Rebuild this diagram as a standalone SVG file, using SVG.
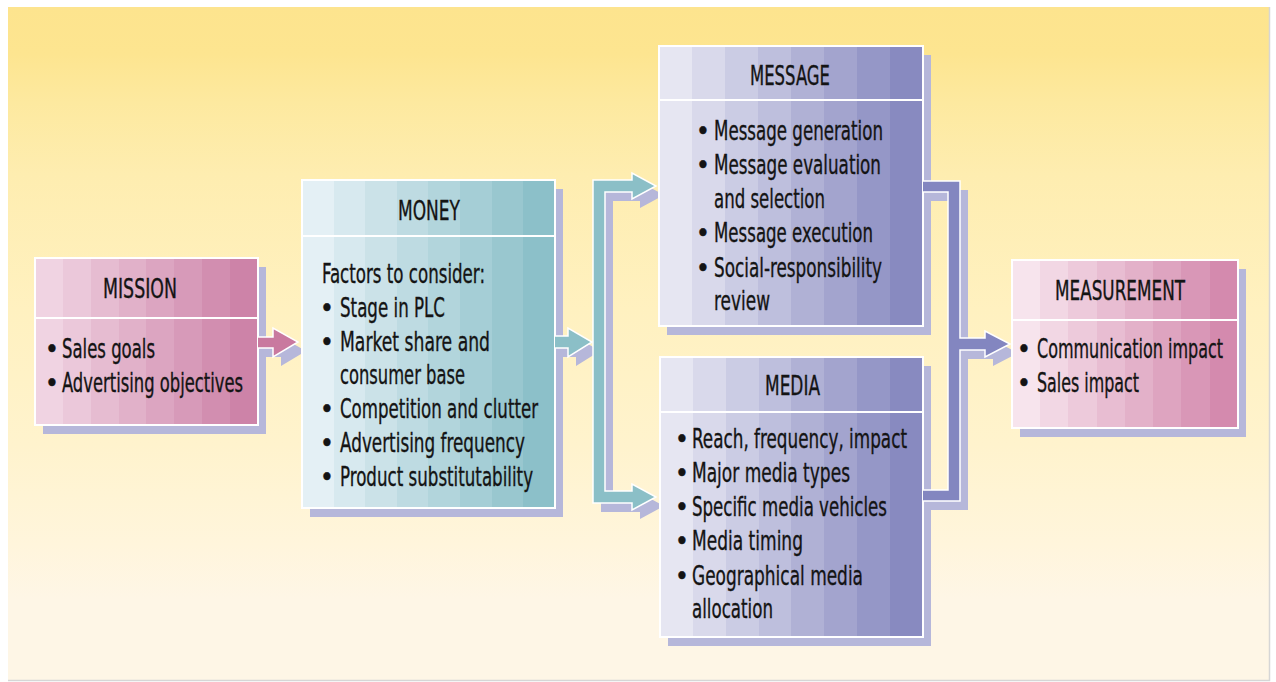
<svg xmlns="http://www.w3.org/2000/svg" width="1276" height="682" viewBox="0 0 1276 682">
<defs>
<linearGradient id="bg" x1="0" y1="0" x2="0" y2="1">
<stop offset="0" stop-color="#fde48e"/><stop offset="0.07" stop-color="#fde590"/><stop offset="0.14" stop-color="#fde99f"/><stop offset="0.25" stop-color="#feedb0"/><stop offset="0.45" stop-color="#fff1c0"/><stop offset="0.65" stop-color="#fff3cd"/><stop offset="0.8" stop-color="#fff5dc"/><stop offset="0.88" stop-color="#fef6e6"/><stop offset="1" stop-color="#fef6e6"/>
</linearGradient>
<linearGradient id="gPink" x1="0" y1="0" x2="1" y2="0">
<stop offset="0" stop-color="#f0d3e2"/><stop offset="0.125" stop-color="#f0d3e2"/><stop offset="0.125" stop-color="#ebc8da"/><stop offset="0.25" stop-color="#ebc8da"/><stop offset="0.25" stop-color="#e6bcd1"/><stop offset="0.375" stop-color="#e6bcd1"/><stop offset="0.375" stop-color="#e1b1c9"/><stop offset="0.5" stop-color="#e1b1c9"/><stop offset="0.5" stop-color="#dca5c1"/><stop offset="0.625" stop-color="#dca5c1"/><stop offset="0.625" stop-color="#d79ab9"/><stop offset="0.75" stop-color="#d79ab9"/><stop offset="0.75" stop-color="#d28eb0"/><stop offset="0.875" stop-color="#d28eb0"/><stop offset="0.875" stop-color="#cd83a8"/><stop offset="1" stop-color="#cd83a8"/>
</linearGradient>
<linearGradient id="gPink2" x1="0" y1="0" x2="1" y2="0">
<stop offset="0" stop-color="#f7e4ed"/><stop offset="0.125" stop-color="#f7e4ed"/><stop offset="0.125" stop-color="#f2d7e4"/><stop offset="0.25" stop-color="#f2d7e4"/><stop offset="0.25" stop-color="#edcadb"/><stop offset="0.375" stop-color="#edcadb"/><stop offset="0.375" stop-color="#e8bdd2"/><stop offset="0.5" stop-color="#e8bdd2"/><stop offset="0.5" stop-color="#e3b1c9"/><stop offset="0.625" stop-color="#e3b1c9"/><stop offset="0.625" stop-color="#dea4c0"/><stop offset="0.75" stop-color="#dea4c0"/><stop offset="0.75" stop-color="#d997b7"/><stop offset="0.875" stop-color="#d997b7"/><stop offset="0.875" stop-color="#d48aae"/><stop offset="1" stop-color="#d48aae"/>
</linearGradient>
<linearGradient id="gTeal" x1="0" y1="0" x2="1" y2="0">
<stop offset="0" stop-color="#e4f0f5"/><stop offset="0.125" stop-color="#e4f0f5"/><stop offset="0.125" stop-color="#d7e9ef"/><stop offset="0.25" stop-color="#d7e9ef"/><stop offset="0.25" stop-color="#cbe2e8"/><stop offset="0.375" stop-color="#cbe2e8"/><stop offset="0.375" stop-color="#bedbe2"/><stop offset="0.5" stop-color="#bedbe2"/><stop offset="0.5" stop-color="#b2d5dc"/><stop offset="0.625" stop-color="#b2d5dc"/><stop offset="0.625" stop-color="#a5ced6"/><stop offset="0.75" stop-color="#a5ced6"/><stop offset="0.75" stop-color="#99c7cf"/><stop offset="0.875" stop-color="#99c7cf"/><stop offset="0.875" stop-color="#8cc0c9"/><stop offset="1" stop-color="#8cc0c9"/>
</linearGradient>
<linearGradient id="gPurple" x1="0" y1="0" x2="1" y2="0">
<stop offset="0" stop-color="#e6e6f2"/><stop offset="0.125" stop-color="#e6e6f2"/><stop offset="0.125" stop-color="#d9d9eb"/><stop offset="0.25" stop-color="#d9d9eb"/><stop offset="0.25" stop-color="#cbcce4"/><stop offset="0.375" stop-color="#cbcce4"/><stop offset="0.375" stop-color="#bebfdd"/><stop offset="0.5" stop-color="#bebfdd"/><stop offset="0.5" stop-color="#b0b1d5"/><stop offset="0.625" stop-color="#b0b1d5"/><stop offset="0.625" stop-color="#a3a4ce"/><stop offset="0.75" stop-color="#a3a4ce"/><stop offset="0.75" stop-color="#9597c7"/><stop offset="0.875" stop-color="#9597c7"/><stop offset="0.875" stop-color="#888ac0"/><stop offset="1" stop-color="#888ac0"/>
</linearGradient>
</defs>
<style>
.shadow{fill:#b6b7da}
.box{stroke:#ffffff;stroke-width:2}
.div{stroke:#ffffff;stroke-width:2}
.conn{stroke:#ffffff;stroke-width:1.5;stroke-linejoin:miter}
text{font-family:"Liberation Sans Narrow","DejaVu Sans Condensed","Liberation Sans",sans-serif;font-size:27px;fill:#141414;stroke:#141414;stroke-width:0.35}
.t{text-anchor:start}
.b{text-anchor:middle;font-size:27px}
</style>
<rect x="0" y="0" width="1276" height="682" fill="#ffffff"/>
<rect x="8" y="7" width="1261" height="673" fill="url(#bg)"/>
<path d="M8 680.5 H1269.5 V7" fill="none" stroke="#d6d6d6" stroke-width="1.5"/>

<g id="connectors">
<path class="shadow" transform="translate(8,9)" d="M257 337 H273 V328 L298 342 L273 357 V348 H257 Z"/>
<path class="shadow" transform="translate(8,9)" d="M554 336 H568 V328 L592 342 L568 357 V348 H554 Z"/>
<path class="shadow" transform="translate(8,9)" d="M593 180 H632 V173 L656 186 L632 199 V192 H605 V491 H632 V484 L656 497 L632 510 V503 H593 Z"/>
<path class="shadow" transform="translate(8,9)" d="M923 181 H960 V338 H985 V331 L1010 344 L985 357 V350 H960 V501 H923 V490 H948 V192 H923 Z"/>
</g>

<g id="mission">
<rect class="shadow" x="43" y="267" width="223" height="167"/>
<rect class="box" x="35" y="258" width="223" height="167" fill="url(#gPink)"/>
<line class="div" x1="35" y1="318" x2="258" y2="318"/>
<text class="t" x="103" y="298" textLength="74" lengthAdjust="spacingAndGlyphs">MISSION</text>
<text class="b" x="52" y="358">•</text>
<text class="t" x="62" y="358" textLength="93" lengthAdjust="spacingAndGlyphs">Sales goals</text>
<text class="b" x="52" y="392">•</text>
<text class="t" x="62" y="392" textLength="181" lengthAdjust="spacingAndGlyphs">Advertising objectives</text>
</g>

<g id="money">
<rect class="shadow" x="310" y="189" width="253" height="328"/>
<rect class="box" x="302" y="180" width="253" height="328" fill="url(#gTeal)"/>
<line class="div" x1="302" y1="236" x2="555" y2="236"/>
<text class="t" x="398" y="220" textLength="62" lengthAdjust="spacingAndGlyphs">MONEY</text>
<text class="t" x="322" y="283" textLength="163" lengthAdjust="spacingAndGlyphs">Factors to consider:</text>
<text class="b" x="327" y="317">•</text>
<text class="t" x="340" y="317" textLength="105" lengthAdjust="spacingAndGlyphs">Stage in PLC</text>
<text class="b" x="327" y="351">•</text>
<text class="t" x="340" y="351" textLength="150" lengthAdjust="spacingAndGlyphs">Market share and</text>
<text class="t" x="340" y="384" textLength="125" lengthAdjust="spacingAndGlyphs">consumer base</text>
<text class="b" x="327" y="418">•</text>
<text class="t" x="340" y="418" textLength="198" lengthAdjust="spacingAndGlyphs">Competition and clutter</text>
<text class="b" x="327" y="452">•</text>
<text class="t" x="340" y="452" textLength="185" lengthAdjust="spacingAndGlyphs">Advertising frequency</text>
<text class="b" x="327" y="486">•</text>
<text class="t" x="340" y="486" textLength="193" lengthAdjust="spacingAndGlyphs">Product substitutability</text>
</g>

<g id="message">
<rect class="shadow" x="667" y="55" width="264" height="280"/>
<rect class="box" x="659" y="46" width="264" height="280" fill="url(#gPurple)"/>
<line class="div" x1="659" y1="100" x2="923" y2="100"/>
<text class="t" x="750" y="85" textLength="80" lengthAdjust="spacingAndGlyphs">MESSAGE</text>
<text class="b" x="703" y="140">•</text>
<text class="t" x="714" y="140" textLength="169" lengthAdjust="spacingAndGlyphs">Message generation</text>
<text class="b" x="703" y="174">•</text>
<text class="t" x="714" y="174" textLength="167" lengthAdjust="spacingAndGlyphs">Message evaluation</text>
<text class="t" x="714" y="208" textLength="111" lengthAdjust="spacingAndGlyphs">and selection</text>
<text class="b" x="703" y="242">•</text>
<text class="t" x="714" y="242" textLength="159" lengthAdjust="spacingAndGlyphs">Message execution</text>
<text class="b" x="703" y="277">•</text>
<text class="t" x="714" y="277" textLength="168" lengthAdjust="spacingAndGlyphs">Social-responsibility</text>
<text class="t" x="714" y="310" textLength="56" lengthAdjust="spacingAndGlyphs">review</text>
</g>

<g id="media">
<rect class="shadow" x="668" y="366" width="263" height="280"/>
<rect class="box" x="660" y="357" width="263" height="280" fill="url(#gPurple)"/>
<line class="div" x1="660" y1="412" x2="923" y2="412"/>
<text class="t" x="765" y="395" textLength="55" lengthAdjust="spacingAndGlyphs">MEDIA</text>
<text class="b" x="682" y="448">•</text>
<text class="t" x="692" y="448" textLength="215" lengthAdjust="spacingAndGlyphs">Reach, frequency, impact</text>
<text class="b" x="682" y="482">•</text>
<text class="t" x="692" y="482" textLength="158" lengthAdjust="spacingAndGlyphs">Major media types</text>
<text class="b" x="682" y="516">•</text>
<text class="t" x="692" y="516" textLength="195" lengthAdjust="spacingAndGlyphs">Specific media vehicles</text>
<text class="b" x="682" y="550">•</text>
<text class="t" x="692" y="550" textLength="111" lengthAdjust="spacingAndGlyphs">Media timing</text>
<text class="b" x="682" y="585">•</text>
<text class="t" x="692" y="585" textLength="171" lengthAdjust="spacingAndGlyphs">Geographical media</text>
<text class="t" x="692" y="618" textLength="81" lengthAdjust="spacingAndGlyphs">allocation</text>
</g>

<g id="measurement">
<rect class="shadow" x="1020" y="269" width="226" height="168"/>
<rect class="box" x="1012" y="260" width="226" height="168" fill="url(#gPink2)"/>
<line class="div" x1="1012" y1="320" x2="1238" y2="320"/>
<text class="t" x="1055" y="300" textLength="130" lengthAdjust="spacingAndGlyphs">MEASUREMENT</text>
<text class="b" x="1024" y="358">•</text>
<text class="t" x="1037" y="358" textLength="186" lengthAdjust="spacingAndGlyphs">Communication impact</text>
<text class="b" x="1024" y="392">•</text>
<text class="t" x="1037" y="392" textLength="102" lengthAdjust="spacingAndGlyphs">Sales impact</text>
</g>

<g id="arrows">
<path class="conn" fill="#c9799f" d="M258 337 H273 V328 L298 342 L273 357 V348 H258"/>
<path class="conn" fill="#8bbfc7" d="M555 336 H568 V328 L592 342 L568 357 V348 H555"/>
<path class="conn" fill="#8bbfc7" d="M593 180 H632 V173 L656 186 L632 199 V192 H605 V491 H632 V484 L656 497 L632 510 V503 H593 Z"/>
<path class="conn" fill="#8386c0" d="M923 181 H960 V338 H985 V331 L1010 344 L985 357 V350 H960 V501 H923 M923 490 H948 V192 H923"/>
</g>
</svg>
